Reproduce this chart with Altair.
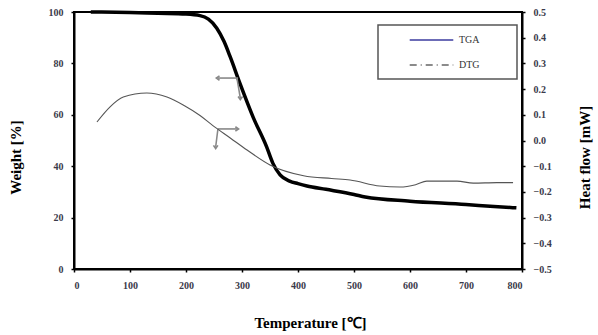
import altair as alt
import pandas as pd

# TGA (weight %) vs temperature
tga_temp = [30, 100, 150, 200, 225, 240, 255, 268, 279, 296, 320, 344, 355, 368, 385, 400, 416, 450, 500, 520, 600, 700, 750, 790]
tga_weight = [100, 99.8, 99.5, 99.2, 98.6, 97.2, 93.7, 88.5, 82.5, 72.4, 59, 47.5, 41.2, 36.6, 34.2, 33.2, 32.3, 31, 29, 28.0, 26.4, 25.1, 24.3, 23.8]

# DTG / heat flow (mW) vs temperature
dtg_temp = [41, 64, 88, 130, 166, 195, 225, 248, 279, 309, 350, 410, 460, 493, 546, 582, 610, 630, 684, 713, 755, 784]
dtg_flow = [0.072, 0.13, 0.169, 0.185, 0.169, 0.138, 0.097, 0.058, 0.01, -0.037, -0.095, -0.137, -0.148, -0.154,
            -0.177, -0.181, -0.172, -0.158, -0.158, -0.166, -0.164, -0.164]

series_names = ["TGA", "DTG"]
series_colors = ["#3c3ca0", "#666666"]
series_dashes = [[1, 0], [7, 4, 1, 4]]

x_ticks = [0, 100, 200, 300, 400, 500, 600, 700, 800]
left_ticks = [0, 20, 40, 60, 80, 100]
right_ticks = [-0.5, -0.4, -0.3, -0.2, -0.1, 0.0, 0.1, 0.2, 0.3, 0.4, 0.5]

# annotation arrows (data units: temperature, weight)
arrow_x = [257, 291, 257, 257]
arrow_x2 = [293, 297, 291, 253]
arrow_y = [74.3, 74.3, 54.5, 54.5]
arrow_y2 = [74.3, 66.5, 54.5, 47.5]
head_x = [257, 297, 291, 253]
head_y = [74.3, 66.5, 54.5, 47.5]
head_shape = ["M 0.5 -0.7 L -0.5 0 L 0.5 0.7",
              "M -0.7 -0.5 L 0 0.5 L 0.7 -0.5",
              "M -0.5 -0.7 L 0.5 0 L -0.5 0.7",
              "M -0.7 -0.5 L 0 0.5 L 0.7 -0.5"]

tga_df = pd.DataFrame({"T": tga_temp, "W": tga_weight})
dtg_df = pd.DataFrame({"T": dtg_temp, "H": dtg_flow})
seg_df = pd.DataFrame({"x": arrow_x, "x2": arrow_x2, "y": arrow_y, "y2": arrow_y2})
head_df = pd.DataFrame({"x": head_x, "y": head_y, "s": head_shape})
leg_df = pd.DataFrame({"T": [0, 0], "W": [0, 0], "series": series_names})

FONT = "Liberation Serif"
LBL = dict(labelFont=FONT, labelFontSize=10, labelFontWeight="bold", labelColor="#3a3a4a")
xscale = alt.Scale(domain=[0, 800], nice=False, zero=False)
lscale = alt.Scale(domain=[0, 100], nice=False)
rscale = alt.Scale(domain=[-0.5, 0.5], nice=False)

x_enc = alt.X("T:Q", scale=xscale,
              axis=alt.Axis(values=x_ticks, title="Temperature [℃]", titleX=236, titleY=53,
                            titleAlign="center", titleBaseline="middle", **LBL))

tga = alt.Chart(tga_df).mark_line(color="black", strokeWidth=3.5, interpolate="monotone").encode(
    x=x_enc,
    y=alt.Y("W:Q", scale=lscale,
            axis=alt.Axis(values=left_ticks, title="Weight [%]", titleX=-59, titleY=145,
                          titleAngle=270, titleAlign="center", titleBaseline="middle", **LBL)),
)

legend_box = alt.Chart(leg_df).mark_rect(fill="white", stroke="#555555", strokeWidth=1.5).encode(
    x=alt.value(304), x2=alt.value(443), y=alt.value(13), y2=alt.value(67)
).transform_filter("datum.series == 'TGA'")

legend_layer = alt.Chart(leg_df).transform_filter("false").mark_line(strokeWidth=1.3).encode(
    x=alt.X("T:Q", scale=xscale),
    y=alt.Y("W:Q", scale=lscale),
    color=alt.Color("series:N", scale=alt.Scale(domain=series_names, range=series_colors),
                    legend=alt.Legend(title=None, orient="none", legendX=304, legendY=13,
                                      symbolType="stroke", symbolSize=1900, symbolStrokeWidth=1.3,
                                      symbolOffset=22, rowPadding=13, padding=9,
                                      labelFont=FONT, labelFontSize=10,
                                      labelColor="#333", clipHeight=12, labelOffset=5)),
    strokeDash=alt.StrokeDash("series:N", scale=alt.Scale(domain=series_names, range=series_dashes),
                              legend=None),
)

segs = alt.Chart(seg_df).mark_rule(color="#888888", strokeWidth=1.6).encode(
    x=alt.X("x:Q", scale=xscale), x2="x2:Q",
    y=alt.Y("y:Q", scale=lscale), y2="y2:Q",
)
heads = alt.Chart(head_df).mark_point(filled=False, color="#888888", strokeWidth=1.6, size=40, opacity=1).encode(
    x=alt.X("x:Q", scale=xscale),
    y=alt.Y("y:Q", scale=lscale),
    shape=alt.Shape("s:N", scale=None),
)

left = alt.layer(legend_box, tga, legend_layer, segs, heads)

dtg = alt.Chart(dtg_df).mark_line(color="#555555", strokeWidth=1.1, interpolate="monotone").encode(
    x=alt.X("T:Q", scale=xscale),
    y=alt.Y("H:Q", scale=rscale,
            axis=alt.Axis(orient="right", values=right_ticks, format=".1f", title="Heat flow [mW]",
                          titleX=62, titleY=145, titleAngle=270, titleAlign="center",
                          titleBaseline="middle", **LBL)),
)

chart = alt.layer(left, dtg).resolve_scale(y="independent").properties(
    width=448, height=257,
    background="white",
    autosize=alt.AutoSizeParams(type="none"),
    padding={"left": 74, "top": 12, "right": 76, "bottom": 66},
).configure_view(stroke="black", strokeWidth=2).configure_axis(
    grid=False, domainColor="black", domainWidth=2, tickColor="black", tickSize=3, tickWidth=1.5,
    labelPadding=8,
    titleFont=FONT, titleFontSize=15, titleFontWeight="bold", titleColor="black",
)

chart.save("out.html", embed_options={"renderer": "svg", "actions": False})
